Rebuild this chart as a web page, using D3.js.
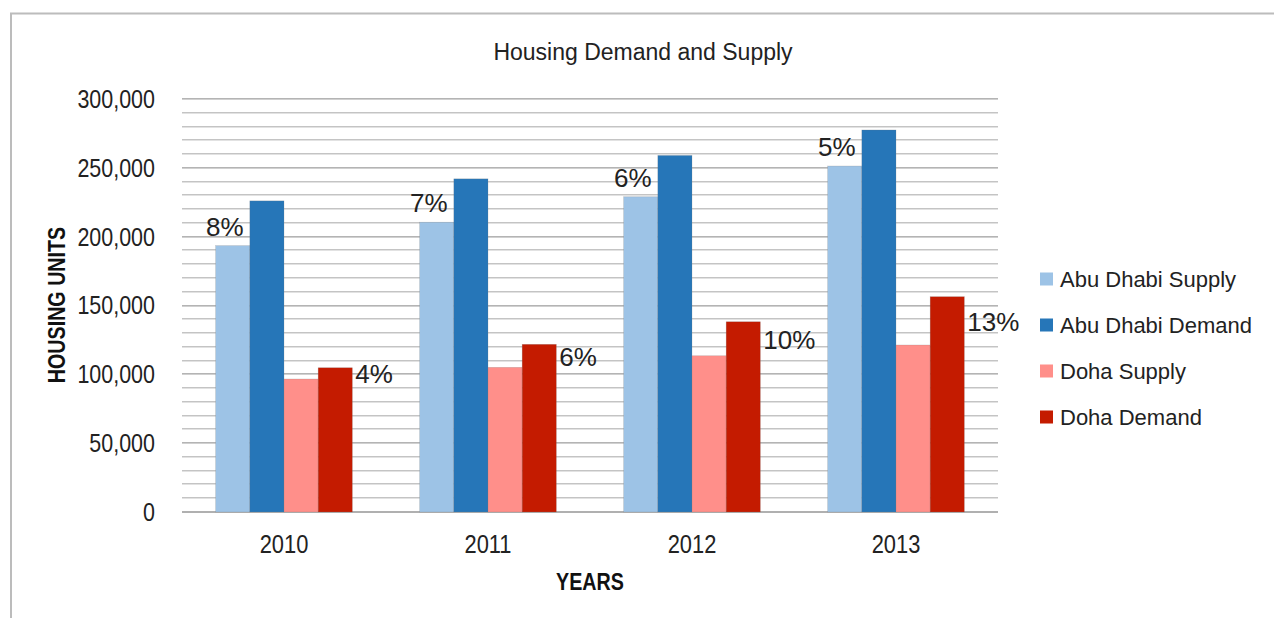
<!DOCTYPE html>
<html>
<head>
<meta charset="utf-8">
<script src="https://cdn.jsdelivr.net/npm/d3@7"></script>
<style>
  body { margin: 0; background: #fff; }
  svg { display: block; font-family: "Liberation Sans", Arial, sans-serif; }
</style>
</head>
<body>
<div id="chart"></div>
<script>
// Data
const years = ['2010', '2011', '2012', '2013'];
const seriesNames = ['Abu Dhabi Supply', 'Abu Dhabi Demand', 'Doha Supply', 'Doha Demand'];
const abuDhabiSupply = [193500, 210500, 229000, 251300];
const abuDhabiDemand = [226000, 242000, 259000, 277500];
const dohaSupply = [96600, 105100, 113500, 121300];
const dohaDemand = [104800, 121800, 138200, 156400];
const abuDhabiGap = ['8%', '7%', '6%', '5%'];
const dohaGap = ['4%', '6%', '10%', '13%'];
const yTicks = [0, 50000, 100000, 150000, 200000, 250000, 300000];

const colors = ['#9dc3e6', '#2676b8', '#ff8f8a', '#c41b00'];

const W = 1274, H = 618;
const margin = { top: 99, right: 276, bottom: 106, left: 182 };
const width = W - margin.left - margin.right;
const height = H - margin.top - margin.bottom;

// squeeze text horizontally (the source used a condensed face)
const narrow = (sel, k) => sel.each(function () {
  const w = this.getComputedTextLength();
  d3.select(this)
    .attr('textLength', w * k)
    .attr('lengthAdjust', 'spacingAndGlyphs');
});

const svg = d3.select('#chart')
  .append('svg')
  .attr('width', W)
  .attr('height', H);

// outer frame
svg.append('path')
  .attr('d', `M11,${H} V13.5 H${W}`)
  .attr('fill', 'none')
  .attr('stroke', '#bcbcbc')
  .attr('stroke-width', 2);

svg.append('text')
  .attr('x', 643)
  .attr('y', 60)
  .attr('text-anchor', 'middle')
  .style('font-size', '23px')
  .attr('fill', '#222')
  .text('Housing Demand and Supply');

const g = svg.append('g')
  .attr('transform', `translate(${margin.left},${margin.top})`);

const x = d3.scaleBand()
  .domain(years)
  .range([0, width])
  .paddingInner(0.33)
  .paddingOuter(0.165);

const xs = d3.scaleBand()
  .domain(seriesNames)
  .range([0, x.bandwidth()]);

const y = d3.scaleLinear()
  .domain([0, 300000])
  .range([height, 0]);

// gridlines every 10,000 (double line look)
const grid = g.append('g');
d3.range(0, 300001, 10000).forEach(v => {
  const major = v % 50000 === 0;
  const yy = Math.round(y(v));
  grid.append('line')
    .attr('x1', 0).attr('x2', width)
    .attr('y1', yy - 0.5).attr('y2', yy - 0.5)
    .attr('stroke', major ? '#b4b4b4' : '#c4c4c4');
  grid.append('line')
    .attr('x1', 0).attr('x2', width)
    .attr('y1', yy + 0.5).attr('y2', yy + 0.5)
    .attr('stroke', major ? '#d0d0d0' : '#e2e2e2');
});

// y axis labels
g.append('g')
  .attr('transform', 'translate(-24,0)')
  .call(d3.axisLeft(y).tickValues(yTicks).tickFormat(d3.format(',')).tickSize(0))
  .call(a => a.select('.domain').remove())
  .selectAll('text')
  .attr('font-family', null)
  .attr('font-size', null)
  .style('font-size', '26.5px')
  .attr('fill', '#222')
  .call(narrow, 0.81);

// x axis labels
g.append('g')
  .attr('transform', `translate(0,${height})`)
  .call(d3.axisBottom(x).tickSize(0).tickPadding(23))
  .call(a => a.select('.domain').remove())
  .selectAll('text')
  .attr('font-family', null)
  .attr('font-size', null)
  .style('font-size', '25px')
  .attr('fill', '#222')
  .call(narrow, 0.875);

// baseline
g.append('line')
  .attr('x1', 0).attr('x2', width)
  .attr('y1', height).attr('y2', height)
  .attr('stroke', '#b0b0b0')
  .attr('stroke-width', 2);

const series = [abuDhabiSupply, abuDhabiDemand, dohaSupply, dohaDemand];
const rows = years.map((yr, i) => ({ year: yr, values: series.map(s => s[i]) }));

const groups = g.selectAll('.year')
  .data(rows)
  .enter().append('g')
  .attr('transform', d => `translate(${x(d.year)},0)`);

groups.selectAll('rect')
  .data(d => d.values.map((v, k) => ({ name: seriesNames[k], value: v, color: colors[k] })))
  .enter().append('rect')
  .attr('x', d => xs(d.name))
  .attr('width', xs.bandwidth())
  .attr('y', d => y(d.value))
  .attr('height', d => height - y(d.value))
  .attr('fill', d => d.color)
  .attr('stroke', 'rgba(120,120,120,0.35)')
  .attr('stroke-width', 0.6);

// Abu Dhabi gap labels, above the supply bar
groups.append('text')
  .attr('x', xs('Abu Dhabi Supply') + xs.bandwidth() / 2 - 8)
  .attr('y', (d, i) => y(abuDhabiSupply[i]) - 10)
  .attr('text-anchor', 'middle')
  .style('font-size', '26px')
  .attr('fill', '#222')
  .text((d, i) => abuDhabiGap[i]);

// Doha gap labels, right of the demand bar
groups.append('text')
  .attr('x', xs('Doha Demand') + xs.bandwidth() + 3)
  .attr('y', (d, i) => y((dohaSupply[i] + dohaDemand[i]) / 2) + 10)
  .style('font-size', '26px')
  .attr('fill', '#222')
  .text((d, i) => dohaGap[i]);

// axis titles
svg.append('text')
  .attr('transform', 'translate(65,305) rotate(-90)')
  .attr('text-anchor', 'middle')
  .style('font-size', '24px')
  .style('font-weight', 'bold')
  .attr('fill', '#111')
  .text('HOUSING UNITS')
  .call(narrow, 0.82);

svg.append('text')
  .attr('x', 590)
  .attr('y', 590)
  .attr('text-anchor', 'middle')
  .style('font-size', '24px')
  .style('font-weight', 'bold')
  .attr('fill', '#111')
  .text('YEARS')
  .call(narrow, 0.82);

// legend
const legend = svg.append('g')
  .attr('transform', 'translate(1040,279)');

const li = legend.selectAll('g')
  .data(seriesNames)
  .enter().append('g')
  .attr('transform', (d, i) => `translate(0,${i * 46})`);

li.append('rect')
  .attr('x', 0).attr('y', -6.5)
  .attr('width', 13).attr('height', 13)
  .attr('fill', (d, i) => colors[i]);

li.append('text')
  .attr('x', 20)
  .attr('dy', '0.35em')
  .style('font-size', '22px')
  .attr('fill', '#222')
  .text(d => d);
</script>
</body>
</html>
